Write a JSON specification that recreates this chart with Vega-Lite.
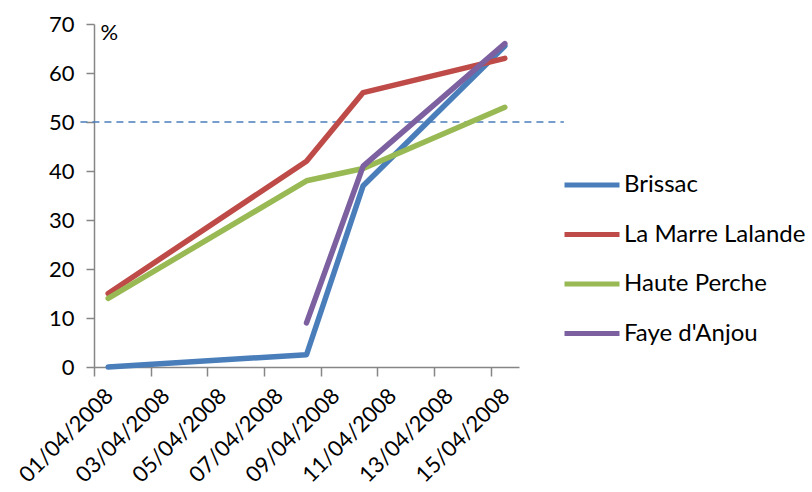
{
  "$schema": "https://vega.github.io/schema/vega-lite/v6.json",
  "width": 425,
  "height": 343,
  "autosize": {"type": "none"},
  "padding": {"left": 94, "top": 24, "right": 293, "bottom": 125},
  "background": "white",
  "config": {
    "view": {"stroke": null},
    "font": "Lato",
    "axis": {"grid": false, "domainColor": "#868686", "tickColor": "#868686", "domainWidth": 1.5, "tickWidth": 1.5, "labelColor": "black", "labelFontSize": 22, "labelFont": "Lato"}
  },
  "datasets": {
    "series": [
      {"date": "2008-04-01T12:00:00", "site": "Brissac", "value": 0},
      {"date": "2008-04-08T12:00:00", "site": "Brissac", "value": 2.5},
      {"date": "2008-04-10T12:00:00", "site": "Brissac", "value": 37},
      {"date": "2008-04-15T12:00:00", "site": "Brissac", "value": 65.5},
      {"date": "2008-04-01T12:00:00", "site": "La Marre Lalande", "value": 15},
      {"date": "2008-04-08T12:00:00", "site": "La Marre Lalande", "value": 42},
      {"date": "2008-04-10T12:00:00", "site": "La Marre Lalande", "value": 56},
      {"date": "2008-04-15T12:00:00", "site": "La Marre Lalande", "value": 63},
      {"date": "2008-04-01T12:00:00", "site": "Haute Perche", "value": 14},
      {"date": "2008-04-08T12:00:00", "site": "Haute Perche", "value": 38},
      {"date": "2008-04-10T12:00:00", "site": "Haute Perche", "value": 40.5},
      {"date": "2008-04-15T12:00:00", "site": "Haute Perche", "value": 53},
      {"date": "2008-04-08T12:00:00", "site": "Faye d'Anjou", "value": 9},
      {"date": "2008-04-10T12:00:00", "site": "Faye d'Anjou", "value": 41},
      {"date": "2008-04-15T12:00:00", "site": "Faye d'Anjou", "value": 66}
    ],
    "threshold": [
      {"start": "2008-03-31T12:30:00", "end": "2008-04-17T14:00:00", "value": 50}
    ]
  },
  "layer": [
    {
      "data": {"name": "threshold"},
      "mark": {"type": "rule", "color": "#4A7EBB", "strokeWidth": 1.5, "strokeDash": [7, 5]},
      "encoding": {
        "x": {"field": "start", "type": "temporal"},
        "x2": {"field": "end"},
        "y": {"field": "value", "type": "quantitative"}
      }
    },
    {
      "data": {"name": "series"},
      "mark": {"type": "line", "strokeWidth": 5.5, "strokeCap": "round", "strokeJoin": "round"},
      "encoding": {
        "x": {
          "field": "date", "type": "temporal",
          "scale": {"domain": [{"year": 2008, "month": 4, "date": 1}, {"year": 2008, "month": 4, "date": 16}]},
          "axis": {
            "title": null,
            "format": "%d/%m/%Y",
            "values": [
              {"year": 2008, "month": 4, "date": 1},
              {"year": 2008, "month": 4, "date": 3},
              {"year": 2008, "month": 4, "date": 5},
              {"year": 2008, "month": 4, "date": 7},
              {"year": 2008, "month": 4, "date": 9},
              {"year": 2008, "month": 4, "date": 11},
              {"year": 2008, "month": 4, "date": 13},
              {"year": 2008, "month": 4, "date": 15}
            ],
            "labelAngle": -45,
            "labelAlign": "right",
            "labelBaseline": "middle",
            "labelOffset": 15,
            "labelPadding": 16,
            "tickSize": 9,
            "labelFlush": false,
            "labelOverlap": false
          }
        },
        "y": {
          "field": "value", "type": "quantitative",
          "scale": {"domain": [0, 70], "nice": false},
          "axis": {
            "title": "%",
            "titleAngle": 0,
            "titleX": 6,
            "titleY": 8,
            "titleAlign": "left",
            "titleBaseline": "middle",
            "titleFontSize": 22,
            "titleFontWeight": "normal",
            "titleFont": "Lato",
            "values": [0, 10, 20, 30, 40, 50, 60, 70],
            "tickSize": 8,
            "labelPadding": 12
          }
        },
        "color": {
          "field": "site", "type": "nominal",
          "scale": {
            "domain": ["Brissac", "La Marre Lalande", "Haute Perche", "Faye d'Anjou"],
            "range": ["#4A7EBB", "#BE4B48", "#98B954", "#7D60A0"]
          },
          "legend": {
            "title": null,
            "orient": "none",
            "legendX": 468,
            "legendY": 131,
            "symbolType": "stroke",
            "symbolSize": 3025,
            "symbolStrokeWidth": 5,
            "labelFontSize": 24,
            "labelFont": "Lato",
            "labelColor": "black",
            "labelLimit": 400,
            "rowPadding": 7.5,
            "labelOffset": 2
          }
        }
      }
    }
  ]
}
